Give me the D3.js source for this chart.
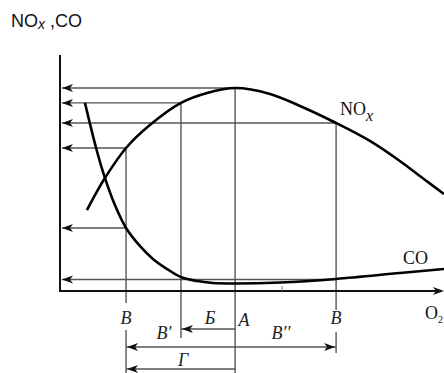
<!DOCTYPE html>
<html>
<head>
<meta charset="utf-8">
<script src="https://cdn.jsdelivr.net/npm/d3@7"></script>
<style>
body { margin: 0; background: #fff; }
svg { display: block; }
.lbl { font-family: "Liberation Serif", "DejaVu Serif", serif; font-style: italic; font-size: 18px; fill: #222; }
.up { font-family: "Liberation Serif", "DejaVu Serif", serif; font-size: 18px; fill: #111; }
</style>
</head>
<body>
<svg id="chart" width="444" height="373"></svg>
<script>
// data (x: relative O2 share, y: relative concentration, both 0..100)
var noxX = [7.0, 9.4, 11.7, 17.2, 23.4, 31.5, 38.3, 45.6, 54.7, 62.5, 71.9, 80.7, 88.5, 95.1, 100];
var noxY = [34.3, 41.5, 47.9, 60.6, 70.3, 79.7, 83.9, 86.0, 83.5, 78.4, 71.2, 63.6, 55.1, 47.0, 41.1];
var coX = [6.5, 9.4, 11.7, 14.3, 17.2, 20.8, 24.2, 27.9, 31.5, 35.7, 39.8, 45.6, 57.3, 71.9, 88.5, 100];
var coY = [79.7, 60.6, 47.9, 36.4, 26.7, 19.1, 13.6, 9.3, 5.9, 4.2, 3.4, 3.2, 3.6, 5.1, 7.6, 9.3];

var markNames = ["B", "B'", "A", "B"];
var markX = [17.2, 31.5, 45.6, 71.9];
var levelY = [86.0, 79.7, 71.2, 60.6, 26.7, 4.9];
var levelToX = [45.6, 31.5, 71.9, 17.2, 17.2, 71.9];

var svg = d3.select("#chart");
var x = d3.scaleLinear().domain([0, 100]).range([60, 444]);
var y = d3.scaleLinear().domain([0, 100]).range([291, 55]);
var x0 = x(0), y0 = y(0);

function arrowHead(g, tx, ty, dir, fill) {
	// dir: -1 left, 1 right
	g.append("path")
		.attr("d", "M" + tx + "," + ty + "L" + (tx - dir * 11) + "," + (ty - 4) + "L" + (tx - dir * 8) + "," + ty + "L" + (tx - dir * 11) + "," + (ty + 4) + "Z")
		.style("fill", fill);
}

// title
var t = svg.append("text").attr("x", 11).attr("y", 27)
	.style("font-family", "'Liberation Sans', Arial, sans-serif").style("font-size", "18px").style("fill", "#111");
t.append("tspan").text("NO");
t.append("tspan").attr("dy", 2).style("font-style", "italic").style("font-size", "14px").text("x");
t.append("tspan").attr("dy", -2).text(" ,CO");

var guide = svg.append("g").style("stroke", "#555").style("stroke-width", 1.4).style("fill", "none");

// horizontal levels with arrows to the y axis
levelY.forEach(function(v, i) {
	guide.append("line").attr("x1", x0 + 2).attr("x2", x(levelToX[i])).attr("y1", y(v)).attr("y2", y(v));
	arrowHead(svg, x0 + 2, y(v), -1, "#111");
});

// vertical lines
var vBottom = [373, 338, 373, 353];
var vGap = [[303, 330], null, null, [310, 332]];
var vTop = [60.6, 79.7, 86.0, 71.2];
markX.forEach(function(v, i) {
	if (vGap[i]) {
		guide.append("line").attr("x1", x(v)).attr("x2", x(v)).attr("y1", y(vTop[i])).attr("y2", vGap[i][0]);
		guide.append("line").attr("x1", x(v)).attr("x2", x(v)).attr("y1", vGap[i][1]).attr("y2", vBottom[i]);
	} else {
		guide.append("line").attr("x1", x(v)).attr("x2", x(v)).attr("y1", y(vTop[i])).attr("y2", vBottom[i]);
	}
});

// span arrows below the axis
guide.append("line").attr("x1", x(markX[2])).attr("x2", x(markX[1])).attr("y1", 329).attr("y2", 329);
arrowHead(svg, x(markX[1]) + 1, 329, -1, "#111");
guide.append("line").attr("x1", x(markX[0])).attr("x2", x(markX[3])).attr("y1", 347).attr("y2", 347);
arrowHead(svg, x(markX[0]) + 1, 347, -1, "#111");
arrowHead(svg, x(markX[3]) - 1, 347, 1, "#111");
guide.append("line").attr("x1", x(markX[2])).attr("x2", x(markX[0])).attr("y1", 369).attr("y2", 369);
arrowHead(svg, x(markX[0]) + 1, 369, -1, "#111");

// axes
var ax = svg.append("g").style("stroke", "#111").style("stroke-width", 2);
ax.append("line").attr("x1", x0).attr("x2", x0).attr("y1", 55).attr("y2", y0 + 1);
ax.append("line").attr("x1", x0 - 1).attr("x2", 438).attr("y1", y0).attr("y2", y0);
arrowHead(svg, 444, y0, 1, "#111");
ax.append("line").attr("x1", 282).attr("x2", 282).attr("y1", y0 - 5).attr("y2", y0).style("stroke-width", 1).style("stroke", "#777");

// curves
var line = d3.line().curve(d3.curveCatmullRom.alpha(0.5)).x(function(d) { return x(d[0]); }).y(function(d) { return y(d[1]); });
svg.append("path").datum(d3.zip(noxX, noxY)).attr("d", line)
	.style("fill", "none").style("stroke", "#000").style("stroke-width", 2.6);
svg.append("path").datum(d3.zip(coX, coY)).attr("d", line)
	.style("fill", "none").style("stroke", "#000").style("stroke-width", 2.6);

// curve labels
var nl = svg.append("text").attr("class", "up").attr("x", 340).attr("y", 115);
nl.append("tspan").text("NO");
nl.append("tspan").attr("dy", 6).style("font-style", "italic").style("font-size", "16px").text("x");
svg.append("text").attr("class", "up").attr("x", 403).attr("y", 264).text("CO");
var ol = svg.append("text").attr("class", "up").attr("x", 425).attr("y", 319).style("font-size", "18px");
ol.append("tspan").text("O");
ol.append("tspan").attr("dy", 4).style("font-size", "10px").text("2");

// mark labels
var lbls = [
	{t: "B", x: x(markX[0]), y: 324},
	{t: "B\u2032", x: 164, y: 339},
	{t: "\u0411", x: 210, y: 324},
	{t: "A", x: 244, y: 326},
	{t: "B\u2032\u2032", x: 281, y: 339},
	{t: "B", x: x(markX[3]), y: 324},
	{t: "\u0413", x: 183, y: 366}
];
svg.selectAll("text.lbl").data(lbls).enter().append("text").attr("class", "lbl")
	.attr("x", function(d) { return d.x; }).attr("y", function(d) { return d.y; })
	.style("text-anchor", "middle").text(function(d) { return d.t; });
</script>
</body>
</html>
